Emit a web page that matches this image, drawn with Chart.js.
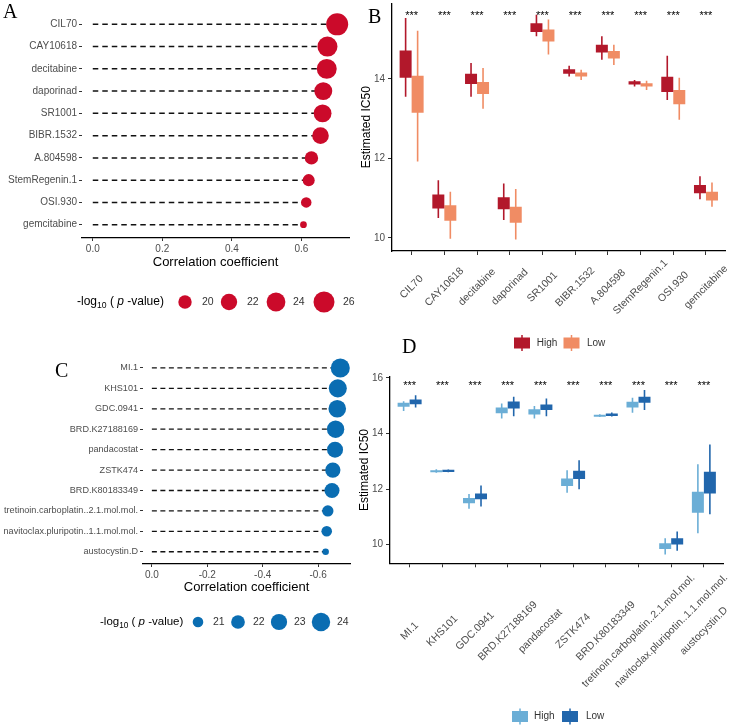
<!DOCTYPE html>
<html>
<head>
<meta charset="utf-8">
<script src="https://cdn.jsdelivr.net/npm/chart.js@4.4.0/dist/chart.umd.min.js"></script>
<style>
  body { margin: 0; background: #fff; }
  #wrap { position: relative; width: 730px; height: 725px; overflow: hidden; }
  canvas { position: absolute; }
  .tag { position: absolute; font-family: "Liberation Serif", "Times New Roman", serif; font-size: 20px; line-height: 20px; color: #000; z-index: 5; }
</style>
</head>
<body>
<div id="wrap">
  <canvas id="chartA" width="360" height="320" style="left:0;top:0"></canvas>
  <canvas id="chartB" width="380" height="355" style="left:350px;top:0"></canvas>
  <canvas id="chartC" width="360" height="300" style="left:0;top:335px"></canvas>
  <canvas id="chartD" width="380" height="390" style="left:350px;top:335px"></canvas>
  <div class="tag" style="left:3px;top:1px">A</div>
  <div class="tag" style="left:368px;top:6px">B</div>
  <div class="tag" style="left:55px;top:360px">C</div>
  <div class="tag" style="left:402px;top:336px">D</div>
</div>
<script>
const FAM = '"Liberation Sans", Arial, Helvetica, sans-serif';
Chart.defaults.font.family = FAM;
Chart.defaults.animation = false;
Chart.defaults.events = [];
Chart.defaults.plugins.legend.display = false;
Chart.defaults.plugins.tooltip.enabled = false;

// ---- Panel A: positive correlation drugs
const drugsA = ['CIL70', 'CAY10618', 'decitabine', 'daporinad', 'SR1001', 'BIBR.1532', 'A.804598', 'StemRegenin.1', 'OSI.930', 'gemcitabine'];
const corrA = [0.703, 0.675, 0.673, 0.663, 0.661, 0.655, 0.629, 0.621, 0.614, 0.606];
const logpA = [27.0, 25.1, 25.0, 23.3, 23.2, 22.2, 20.0, 19.2, 18.4, 16.9];
const sizeBreaksA = [20, 22, 24, 26];
const xTicksA = [0, 0.2, 0.4, 0.6];
const xTickLabelsA = ['0.0', '0.2', '0.4', '0.6'];

// ---- Panel C: negative correlation drugs
const drugsC = ['MI.1', 'KHS101', 'GDC.0941', 'BRD.K27188169', 'pandacostat', 'ZSTK474', 'BRD.K80183349', 'tretinoin.carboplatin..2.1.mol.mol.', 'navitoclax.pluripotin..1.1.mol.mol.', 'austocystin.D'];
const corrC = [-0.680, -0.671, -0.669, -0.663, -0.661, -0.653, -0.650, -0.635, -0.631, -0.627];
const logpC = [24.3, 23.8, 23.6, 23.5, 22.9, 22.6, 22.5, 21.2, 21.0, 20.1];
const sizeBreaksC = [21, 22, 23, 24];
const xTicksC = [0, -0.2, -0.4, -0.6];
const xTickLabelsC = ['0.0', '-0.2', '-0.4', '-0.6'];

// ---- Panel B boxes: [lower whisker, Q1, Q3, upper whisker]
const bHigh = [[13.55, 14.03, 14.71, 15.53], [10.50, 10.74, 11.09, 11.45], [13.55, 13.87, 14.13, 14.40], [10.45, 10.72, 11.02, 11.37], [15.07, 15.18, 15.40, 15.61],
               [14.06, 14.13, 14.24, 14.33], [14.48, 14.66, 14.86, 15.07], [13.81, 13.86, 13.94, 13.97], [13.47, 13.67, 14.05, 14.58], [10.97, 11.12, 11.33, 11.55]];
const bLow = [[11.92, 13.15, 14.08, 15.21], [9.98, 10.43, 10.82, 11.16], [13.25, 13.62, 13.92, 14.27], [9.96, 10.38, 10.78, 11.23], [14.61, 14.94, 15.24, 15.49],
              [13.97, 14.06, 14.16, 14.23], [14.35, 14.51, 14.70, 14.86], [13.72, 13.81, 13.89, 13.95], [12.97, 13.36, 13.72, 14.03], [10.78, 10.94, 11.16, 11.39]];
const sigB = ['***', '***', '***', '***', '***', '***', '***', '***', '***', '***'];
const yTicksB = [10, 12, 14];

// ---- Panel D boxes
const dHigh = [[14.81, 14.96, 15.10, 15.16], [12.59, 12.60, 12.68, 12.71], [11.29, 11.49, 11.68, 11.82], [14.54, 14.73, 14.93, 15.08], [14.54, 14.68, 14.87, 14.99],
               [11.87, 12.11, 12.38, 12.68], [14.59, 14.60, 14.67, 14.69], [14.74, 14.93, 15.14, 15.28], [9.65, 9.84, 10.05, 10.23], [10.41, 11.15, 11.90, 12.89]];
const dLow = [[14.93, 15.05, 15.22, 15.37], [12.60, 12.61, 12.69, 12.70], [11.37, 11.63, 11.84, 12.13], [14.62, 14.90, 15.15, 15.32], [14.62, 14.84, 15.04, 15.26],
              [11.99, 12.36, 12.66, 13.04], [14.61, 14.63, 14.72, 14.75], [14.84, 15.10, 15.32, 15.56], [9.78, 10.01, 10.23, 10.47], [11.09, 11.84, 12.62, 13.60]];
const sigD = ['***', '***', '***', '***', '***', '***', '***', '***', '***', '***'];
const yTicksD = [10, 12, 14, 16];

// point size scales (area grows with -log10 p)
const radiusA = v => Math.sqrt(Math.max(45 + 10.85 * (v - 20), 4));
const radiusC = v => Math.sqrt(Math.max(28 + 19 * (v - 21), 4));

// size legend drawn under the lollipop panels
function sizeLegend(o) {
  return {
    id: 'sizeLegend',
    afterDraw(chart) {
      const ctx = chart.ctx;
      ctx.save();
      ctx.textBaseline = 'middle';
      ctx.textAlign = 'left';
      ctx.fillStyle = '#000';
      let x = o.textX;
      const seg = (t, font, dy) => { ctx.font = font; ctx.fillText(t, x, o.y + dy); x += ctx.measureText(t).width; };
      seg('-log', o.font + 'px ' + FAM, 0);
      seg('10', (o.font * 0.72) + 'px ' + FAM, o.font * 0.3);
      seg(' ( ', o.font + 'px ' + FAM, 0);
      seg('p', 'italic ' + o.font + 'px ' + FAM, 0);
      seg(' -value)', o.font + 'px ' + FAM, 0);
      o.values.forEach((v, i) => {
        ctx.beginPath();
        ctx.arc(o.cx[i], o.y, o.radius(v), 0, Math.PI * 2);
        ctx.fillStyle = o.color;
        ctx.fill();
        ctx.fillStyle = '#333';
        ctx.font = '10.5px ' + FAM;
        ctx.fillText(String(v), o.lx[i], o.y);
      });
      ctx.restore();
    }
  };
}

function lollipop(id, c) {
  const rows = c.names.map((n, i) => i);
  const lines = rows.map(i => ({
    type: 'line',
    data: [{x: 0, y: i}, {x: c.corr[i], y: i}],
    borderColor: '#111', borderWidth: c.lineWidth, borderDash: c.dash,
    pointRadius: 0, order: 2, clip: false
  }));
  const dots = {
    type: 'bubble',
    data: rows.map(i => ({x: c.corr[i], y: i, r: c.radius(c.logp[i])})),
    backgroundColor: c.color, borderWidth: 0, order: 1, clip: false
  };
  new Chart(document.getElementById(id), {
    type: 'bubble',
    data: {datasets: [dots].concat(lines)},
    options: {
      responsive: false,
      layout: {padding: c.padding},
      scales: {
        x: {
          type: 'linear', min: c.xMin, max: c.xMax, reverse: c.reverse,
          afterBuildTicks: s => { s.ticks = c.xTicks.map(v => ({value: v})); },
          afterFit: s => { s.height = c.xHeight; s.paddingLeft = 0; s.paddingRight = 0; },
          border: {display: true, color: '#000', width: 1.3},
          grid: {drawOnChartArea: false, drawTicks: true, tickLength: 3, tickColor: '#333'},
          ticks: {color: '#4d4d4d', font: {size: 10}, padding: 2, autoSkip: false, maxRotation: 0,
                  callback: (v, i) => c.xTickLabels[i]},
          title: {display: true, text: 'Correlation coefficient', color: '#000', font: {size: 13}, padding: 0}
        },
        y: {
          type: 'linear', min: -0.6, max: c.names.length - 0.4, reverse: true,
          afterBuildTicks: s => { s.ticks = rows.map(i => ({value: i})); },
          afterFit: s => { s.width = c.yWidth; s.paddingTop = 0; s.paddingBottom = 0; },
          border: {display: false},
          grid: {drawOnChartArea: false, drawTicks: true, tickLength: 3, tickColor: '#333'},
          ticks: {color: '#4d4d4d', font: {size: c.labelSize}, padding: 2, autoSkip: false,
                  callback: (v, i) => c.names[i]}
        }
      }
    },
    plugins: [sizeLegend(c.legend)]
  });
}

// rotated category labels, significance stars and fill legend for box panels
function boxDecor(o) {
  return {
    id: 'boxDecor',
    afterDraw(chart) {
      const ctx = chart.ctx, xs = chart.scales.x, ys = chart.scales.y;
      ctx.save();
      ctx.fillStyle = '#4d4d4d';
      ctx.font = o.labelSize + 'px ' + FAM;
      ctx.textAlign = 'center';
      ctx.textBaseline = 'middle';
      o.names.forEach((t, i) => {
        ctx.save();
        ctx.translate(xs.getPixelForValue(i), o.labelY);
        ctx.rotate(-Math.PI / 4);
        ctx.fillText(t, 0, 0);
        ctx.restore();
      });
      ctx.fillStyle = '#000';
      ctx.font = '11px ' + FAM;
      ctx.textBaseline = 'alphabetic';
      o.sig.forEach((t, i) => ctx.fillText(t, xs.getPixelForValue(i), ys.getPixelForValue(o.sigY) + 6));
      ctx.textAlign = 'left';
      ctx.textBaseline = 'middle';
      ctx.font = '10px ' + FAM;
      o.keys.forEach((k, i) => {
        ctx.fillStyle = o.colors[i];
        ctx.fillRect(o.kx[i] - 8, o.legendY - 5.5, 16, 11);
        ctx.fillRect(o.kx[i] - 0.75, o.legendY - 8, 1.5, 16);
        ctx.fillStyle = '#333';
        ctx.fillText(k, o.tx[i], o.legendY);
      });
      ctx.restore();
    }
  };
}

function boxChart(id, c) {
  const idx = c.names.map((n, i) => i);
  const common = {borderWidth: 0, categoryPercentage: 0.734, barPercentage: 1, grouped: true};
  const box = (arr, col, stack) => Object.assign({
    data: idx.map(i => ({x: i, y: [arr[i][1], arr[i][2]]})), backgroundColor: col, stack: stack
  }, common);
  const whisker = (arr, col, stack) => Object.assign({
    data: idx.map(i => ({x: i, y: [arr[i][0], arr[i][3]]})), backgroundColor: col, stack: stack, maxBarThickness: 1.6
  }, common);
  new Chart(document.getElementById(id), {
    type: 'bar',
    data: {datasets: [box(c.high, c.colors[0], 'h'), box(c.low, c.colors[1], 'l'),
                      whisker(c.high, c.colors[0], 'h'), whisker(c.low, c.colors[1], 'l')]},
    options: {
      responsive: false,
      layout: {padding: c.padding},
      scales: {
        x: {
          type: 'linear', min: -0.6, max: c.names.length - 0.4, offset: false,
          afterBuildTicks: s => { s.ticks = idx.map(i => ({value: i})); },
          afterFit: s => { s.height = c.xHeight; s.paddingLeft = 0; s.paddingRight = 0; },
          border: {display: true, color: '#000', width: 1.3},
          grid: {offset: false, drawOnChartArea: false, drawTicks: true, tickLength: 4, tickColor: '#333'},
          ticks: {display: false}
        },
        y: {
          type: 'linear', min: c.yMin, max: c.yMax, stacked: false,
          afterBuildTicks: s => { s.ticks = c.yTicks.map(v => ({value: v})); },
          afterFit: s => { s.width = c.yWidth; s.paddingTop = 0; s.paddingBottom = 0; },
          border: {display: true, color: '#000', width: 1.3},
          grid: {drawOnChartArea: false, drawTicks: true, tickLength: 4, tickColor: '#333'},
          ticks: {color: '#4d4d4d', font: {size: 10}, padding: 3},
          title: {display: true, text: 'Estimated IC50', color: '#000', font: {size: 12}, padding: {top: c.titlePad, bottom: 0}}
        }
      }
    },
    plugins: [boxDecor({names: c.names, labelY: c.labelY, labelSize: 10.5, sig: c.sig, sigY: c.sigY,
                        keys: ['High', 'Low'], colors: c.colors, kx: c.kx, tx: c.tx, legendY: c.legendY})]
  });
}

lollipop('chartA', {
  names: drugsA, corr: corrA, logp: logpA, radius: radiusA, color: '#CB0A2A',
  xMin: -0.031, xMax: 0.737, reverse: false, xTicks: xTicksA, xTickLabels: xTickLabelsA,
  padding: {left: 0, top: 3.2, right: 10, bottom: 50}, yWidth: 82, xHeight: 32, labelSize: 10,
  lineWidth: 1.5, dash: [5.5, 4],
  legend: {y: 302, textX: 77, font: 12, values: sizeBreaksA, radius: radiusA, color: '#CB0A2A',
           cx: [185, 229, 276, 324], lx: [202, 247, 293, 343]}
});

lollipop('chartC', {
  names: drugsC, corr: corrC, logp: logpC, radius: radiusC, color: '#0A6DB2',
  xMin: -0.715, xMax: 0.032, reverse: true, xTicks: xTicksC, xTickLabels: xTickLabelsC,
  padding: {left: 0, top: 20.7, right: 10, bottom: 40}, yWidth: 143, xHeight: 31, labelSize: 9.1,
  lineWidth: 1.3, dash: [5, 3.5],
  legend: {y: 287, textX: 100, font: 11.5, values: sizeBreaksC, radius: radiusC, color: '#0A6DB2',
           cx: [198, 238, 279, 321], lx: [213, 253, 294, 337]}
});

boxChart('chartB', {
  names: drugsA, high: bHigh, low: bLow, colors: ['#B2182B', '#F08C64'],
  yMin: 9.67, yMax: 15.9, yTicks: yTicksB, sig: sigB, sigY: 15.65,
  padding: {left: 0, top: 3.3, right: 4.4, bottom: 0}, yWidth: 42, xHeight: 104, titlePad: 9.8,
  labelY: 287, legendY: 343, kx: [172, 221.5], tx: [186.7, 237]
});

boxChart('chartD', {
  names: drugsC, high: dHigh, low: dLow, colors: ['#6BAED6', '#2166AC'],
  yMin: 9.33, yMax: 16.04, yTicks: yTicksD, sig: sigD, sigY: 15.80,
  padding: {left: 0, top: 41.7, right: 6.5, bottom: 0}, yWidth: 40, xHeight: 161.7, titlePad: 7.8,
  labelY: 296, legendY: 381.5, kx: [170, 220], tx: [184, 236]
});
</script>
</body>
</html>
